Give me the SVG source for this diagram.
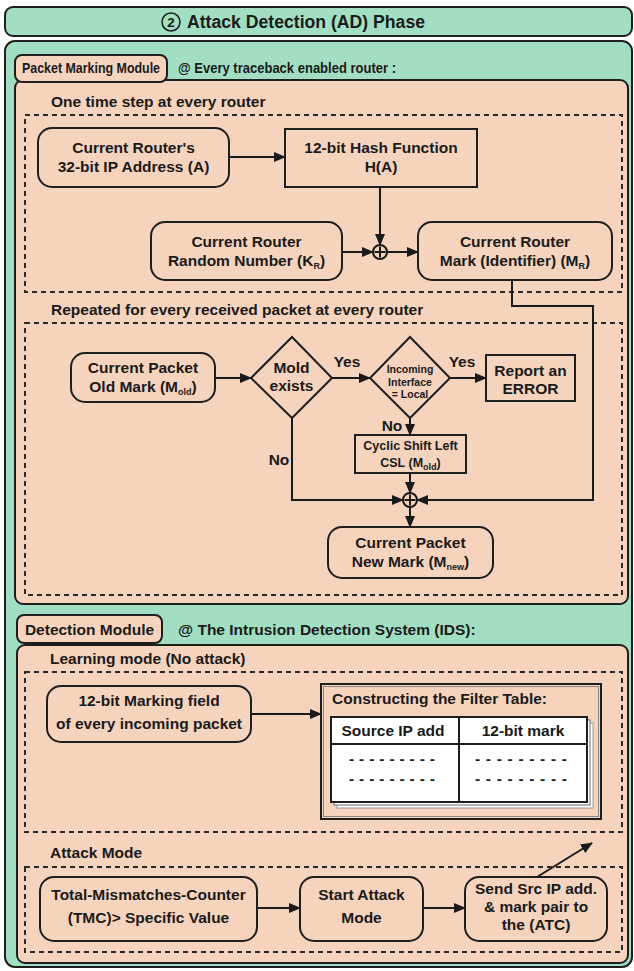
<svg xmlns="http://www.w3.org/2000/svg" width="634" height="971" viewBox="0 0 634 971">
  <defs>
    <marker id="arr" markerWidth="12" markerHeight="10" refX="11" refY="5" orient="auto" markerUnits="userSpaceOnUse">
      <path d="M0,0 L12,5 L0,10 Z" fill="#1a1a1a"/>
    </marker>
    <style>
      .green{fill:#A2DFC2;stroke:#1e1e1e;stroke-width:2}
      .panel{fill:#F6D3BD;stroke:#1e1e1e;stroke-width:2}
      .node{fill:#F6D3BD;stroke:#1e1e1e;stroke-width:2}
      .dash{fill:none;stroke:#2a2a2a;stroke-width:2;stroke-dasharray:5 4}
      .conn{fill:none;stroke:#1a1a1a;stroke-width:2}
      .arrow{marker-end:url(#arr)}
      text{font-family:"Liberation Sans",Arial,sans-serif;font-weight:bold;fill:#1a1a1a}
      .t{font-size:15.5px;text-anchor:middle}
      .l{font-size:15.5px}
      .sub{font-size:9px}
      .sm{font-size:10.5px;text-anchor:middle}
      .csl{font-size:12.5px;text-anchor:middle}
    </style>
  </defs>

  <!-- phase header -->
  <g id="phase-header">
    <rect class="green" x="5" y="7" width="627" height="29" rx="8"/>
    <circle cx="171" cy="22" r="9" fill="none" stroke="#1a1a1a" stroke-width="1.5"/>
    <text x="171" y="27" font-size="13.5" text-anchor="middle">2</text>
    <text x="187" y="28" font-size="17.5" textLength="238" lengthAdjust="spacingAndGlyphs">Attack Detection (AD) Phase</text>
  </g>

  <!-- outer green container -->
  <rect class="green" x="5" y="41" width="627" height="926" rx="10"/>

  <!-- packet marking module -->
  <g id="packet-marking-module">
    <rect class="panel" x="15" y="80" width="613" height="524" rx="8"/>
    <rect class="panel" x="15" y="55" width="152" height="27" rx="7"/>
    <text x="22" y="73" font-size="14" textLength="138" lengthAdjust="spacingAndGlyphs">Packet Marking Module</text>
    <text x="178" y="73" font-size="14" textLength="218" lengthAdjust="spacingAndGlyphs">@ Every traceback enabled router :</text>

    <text class="l" x="51" y="107">One time step at every router</text>
    <rect class="dash" x="25" y="115" width="597" height="177"/>

    <text class="l" x="51" y="315">Repeated for every received packet at every router</text>
    <rect class="dash" x="25" y="323" width="597" height="272"/>
  </g>

  <!-- detection module -->
  <g id="detection-module">
    <rect class="panel" x="17" y="645" width="611" height="318" rx="8"/>
    <rect class="panel" x="17" y="615" width="145" height="28" rx="7"/>
    <text x="89.5" y="635" font-size="15.5" text-anchor="middle">Detection Module</text>
    <text x="178" y="635" font-size="15.5">@ The Intrusion Detection System (IDS):</text>

    <text class="l" x="50" y="664">Learning mode (No attack)</text>
    <rect class="dash" x="25" y="672" width="597" height="160"/>

    <text class="l" x="50" y="858">Attack Mode</text>
    <rect class="dash" x="25" y="867" width="597" height="85"/>
  </g>

  <!-- connectors -->
  <g id="connectors">
    <path class="conn arrow" d="M229 157 H285"/>
    <path class="conn arrow" d="M380 187 V245"/>
    <path class="conn arrow" d="M342 252 H373"/>
    <path class="conn arrow" d="M387 252 H418"/>
    <path class="conn arrow" d="M512 280 V306 H593 V500 H417"/>

    <path class="conn arrow" d="M215 378 H251"/>
    <path class="conn arrow" d="M332 378 H370"/>
    <text class="t" x="347" y="367">Yes</text>
    <path class="conn arrow" d="M450 378 H486"/>
    <text class="t" x="462" y="367">Yes</text>
    <path class="conn arrow" d="M410 418 V435"/>
    <text class="t" x="392" y="431">No</text>
    <path class="conn arrow" d="M410 473 V493"/>
    <path class="conn arrow" d="M292 418 V500 H403"/>
    <text class="t" x="279" y="465">No</text>
    <path class="conn arrow" d="M410 507 V527"/>

    <path class="conn arrow" d="M251 714 H321"/>
    <path class="conn arrow" d="M257 908 H300"/>
    <path class="conn arrow" d="M423 908 H465"/>
    <path class="conn arrow" d="M537 877 L592 843"/>
  </g>

  <!-- one-time router step -->
  <g id="router-ip">
    <rect class="node" x="38" y="128" width="191" height="59" rx="14"/>
    <text class="t" x="133.5" y="153">Current Router's</text>
    <text class="t" x="133.5" y="172">32-bit IP Address (A)</text>
  </g>
  <g id="hash-function">
    <rect class="node" x="285" y="129" width="192" height="58"/>
    <text class="t" x="381" y="153">12-bit Hash Function</text>
    <text class="t" x="381" y="172">H(A)</text>
  </g>
  <g id="xor-router">
    <circle cx="380" cy="252" r="7" fill="#F6D3BD" stroke="#1a1a1a" stroke-width="2"/>
    <path d="M380 246.5 V257.5 M374.5 252 H385.5" stroke="#1a1a1a" stroke-width="2"/>
  </g>
  <g id="router-random">
    <rect class="node" x="151" y="222" width="191" height="58" rx="14"/>
    <text class="t" x="246.5" y="247">Current Router</text>
    <text class="t" x="246.5" y="266">Random Number (K<tspan class="sub" dy="3">R</tspan><tspan dy="-3">)</tspan></text>
  </g>
  <g id="router-mark">
    <rect class="node" x="418" y="222" width="194" height="58" rx="14"/>
    <text class="t" x="515" y="247">Current Router</text>
    <text class="t" x="515" y="266">Mark (Identifier) (M<tspan class="sub" dy="3">R</tspan><tspan dy="-3">)</tspan></text>
  </g>

  <!-- per-packet marking -->
  <g id="old-mark">
    <rect class="node" x="71" y="353" width="144" height="49" rx="14"/>
    <text class="t" x="143" y="373">Current Packet</text>
    <text class="t" x="143" y="392">Old Mark (M<tspan class="sub" dy="3">old</tspan><tspan dy="-3">)</tspan></text>
  </g>
  <g id="mold-exists">
    <polygon class="node" points="292,337 332,378 292,418 251,378"/>
    <text class="t" x="291.5" y="373">Mold</text>
    <text class="t" x="291.5" y="391">exists</text>
  </g>
  <g id="incoming-local">
    <polygon class="node" points="410,337 450,378 410,418 370,378"/>
    <text class="sm" x="410" y="373">Incoming</text>
    <text class="sm" x="410" y="386">Interface</text>
    <text class="sm" x="410" y="398">= Local</text>
  </g>
  <g id="report-error">
    <rect class="node" x="486" y="355" width="89" height="46"/>
    <text class="t" x="530.5" y="376" font-size="16">Report an</text>
    <text class="t" x="530.5" y="394" font-size="16">ERROR</text>
  </g>
  <g id="cyclic-shift">
    <rect class="node" x="355" y="435" width="111" height="38"/>
    <text class="csl" x="410.5" y="450">Cyclic Shift Left</text>
    <text class="csl" x="410.5" y="467">CSL (M<tspan class="sub" dy="3" font-size="8">old</tspan><tspan dy="-3">)</tspan></text>
  </g>
  <g id="xor-packet">
    <circle cx="410" cy="500" r="7" fill="#F6D3BD" stroke="#1a1a1a" stroke-width="2"/>
    <path d="M410 494.5 V505.5 M404.5 500 H415.5" stroke="#1a1a1a" stroke-width="2"/>
  </g>
  <g id="new-mark">
    <rect class="node" x="328" y="527" width="165" height="51" rx="14"/>
    <text class="t" x="410.5" y="548">Current Packet</text>
    <text class="t" x="410.5" y="567">New Mark (M<tspan class="sub" dy="3">new</tspan><tspan dy="-3">)</tspan></text>
  </g>

  <!-- learning mode -->
  <g id="marking-field">
    <rect class="node" x="47" y="686" width="204" height="56" rx="14"/>
    <text class="t" x="149" y="706">12-bit Marking field</text>
    <text class="t" x="149" y="729">of every incoming packet</text>
  </g>
  <g id="filter-table">
    <rect x="321" y="684" width="280" height="135" fill="#F6D3BD" stroke="#1e1e1e" stroke-width="2"/>
    <rect x="323.5" y="686.5" width="275" height="130" fill="none" stroke="#8a8a8a" stroke-width="1"/>
    <text class="l" x="332" y="704">Constructing the Filter Table:</text>
    <rect x="337" y="723" width="256" height="85" fill="#fff" stroke="#9a9a9a" stroke-width="1"/>
    <rect x="334" y="720" width="256" height="85" fill="#fff" stroke="#6a6a6a" stroke-width="1"/>
    <rect x="331" y="717" width="256" height="85" fill="#fff" stroke="#1e1e1e" stroke-width="2"/>
    <path d="M331 744 H587 M459 717 V802" stroke="#1e1e1e" stroke-width="2"/>
    <text class="t" x="393" y="736">Source IP add</text>
    <text class="t" x="523" y="736">12-bit mark</text>
    <text class="t" x="392" y="764" textLength="86">- - - - - - - - -</text>
    <text class="t" x="392" y="784" textLength="86">- - - - - - - - -</text>
    <text class="t" x="521" y="764" textLength="92">- - - - - - - - -</text>
    <text class="t" x="521" y="784" textLength="92">- - - - - - - - -</text>
  </g>

  <!-- attack mode -->
  <g id="tmc-threshold">
    <rect class="node" x="40" y="877" width="217" height="64" rx="14"/>
    <text class="t" x="148.5" y="900">Total-Mismatches-Counter</text>
    <text class="t" x="148.5" y="923">(TMC)&gt; Specific Value</text>
  </g>
  <g id="start-attack">
    <rect class="node" x="300" y="877" width="123" height="64" rx="14"/>
    <text class="t" x="361.5" y="900">Start Attack</text>
    <text class="t" x="361.5" y="923">Mode</text>
  </g>
  <g id="send-pair">
    <rect class="node" x="465" y="877" width="142" height="64" rx="14"/>
    <text class="t" x="536" y="894">Send Src IP add.</text>
    <text class="t" x="536" y="912">&amp; mark pair to</text>
    <text class="t" x="536" y="930">the (ATC)</text>
  </g>
</svg>
